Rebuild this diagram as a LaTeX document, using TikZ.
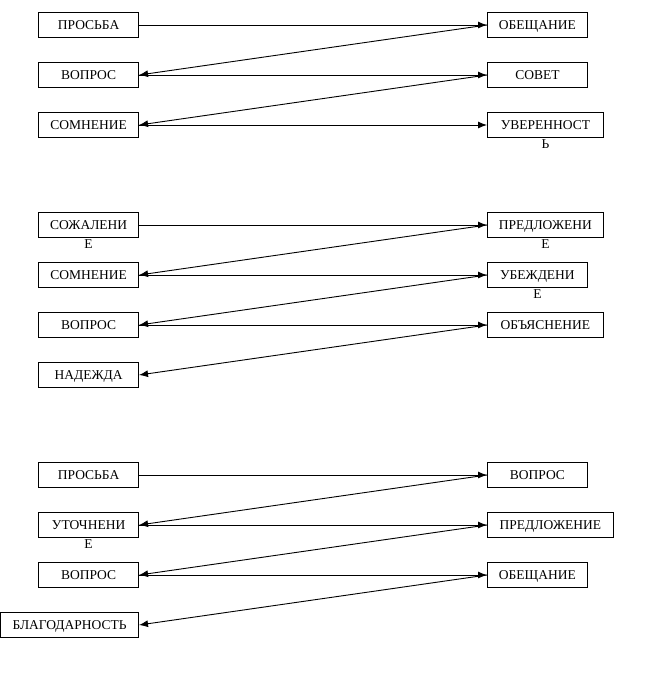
\documentclass[tikz,border=0pt]{standalone}
\usepackage{fontspec}
\setmainfont{Liberation Serif}
\usetikzlibrary{arrows.meta,positioning}

% text that runs out of its box: first line inside, second below
\newcommand{\spill}[2]{\vtop{\halign{\hfil##\hfil\cr#1\cr#2\cr}}}

\tikzset{
  box/.style={draw, rectangle, line width=0.8pt, inner sep=0pt, minimum height=25pt, minimum width=100pt,
    text height=9.5pt, text depth=0pt, font=\fontsize{13.5}{19}\selectfont},
  link/.style={-{Latex[length=9pt,width=7pt]}, line width=0.9pt}
}

\begin{document}
\begin{tikzpicture}[x=1pt,y=-1pt]
  \useasboundingbox (0,0) rectangle (652,675);

  % first block
  \node[box,anchor=east] (a1) at (139,25) {ПРОСЬБА};
  \node[box,anchor=east] (a2) at (139,75) {ВОПРОС};
  \node[box,anchor=east] (a3) at (139,125) {СОМНЕНИЕ};
  \node[box,anchor=west] (b1) at (487,25) {ОБЕЩАНИЕ};
  \node[box,anchor=west] (b2) at (487,75) {СОВЕТ};
  \node[box,anchor=west,minimum width=116pt] (b3) at (487,125) {\spill{УВЕРЕННОСТ}{Ь}};

  \draw[link] (a1.east) -- (b1.west);
  \draw[link] (b1.west) -- (a2.east);
  \draw[link] (a2.east) -- (b2.west);
  \draw[link] (b2.west) -- (a3.east);
  \draw[link] (a3.east) -- (b3.west);

  % second block
  \node[box,anchor=east] (c1) at (139,225) {\spill{СОЖАЛЕНИ}{Е}};
  \node[box,anchor=east] (c2) at (139,275) {СОМНЕНИЕ};
  \node[box,anchor=east] (c3) at (139,325) {ВОПРОС};
  \node[box,anchor=east] (c4) at (139,375) {НАДЕЖДА};
  \node[box,anchor=west,minimum width=116pt] (d1) at (487,225) {\spill{ПРЕДЛОЖЕНИ}{Е}};
  \node[box,anchor=west] (d2) at (487,275) {\spill{УБЕЖДЕНИ}{Е}};
  \node[box,anchor=west,minimum width=116pt] (d3) at (487,325) {ОБЪЯСНЕНИЕ};

  \draw[link] (c1.east) -- (d1.west);
  \draw[link] (d1.west) -- (c2.east);
  \draw[link] (c2.east) -- (d2.west);
  \draw[link] (d2.west) -- (c3.east);
  \draw[link] (c3.east) -- (d3.west);
  \draw[link] (d3.west) -- (c4.east);

  % third block
  \node[box,anchor=east] (e1) at (139,475) {ПРОСЬБА};
  \node[box,anchor=east] (e2) at (139,525) {\spill{УТОЧНЕНИ}{Е}};
  \node[box,anchor=east] (e3) at (139,575) {ВОПРОС};
  \node[box,anchor=east,minimum width=138pt] (e4) at (139,625) {БЛАГОДАРНОСТЬ};
  \node[box,anchor=west] (f1) at (487,475) {ВОПРОС};
  \node[box,anchor=west,minimum width=126pt] (f2) at (487,525) {ПРЕДЛОЖЕНИЕ};
  \node[box,anchor=west] (f3) at (487,575) {ОБЕЩАНИЕ};

  \draw[link] (e1.east) -- (f1.west);
  \draw[link] (f1.west) -- (e2.east);
  \draw[link] (e2.east) -- (f2.west);
  \draw[link] (f2.west) -- (e3.east);
  \draw[link] (e3.east) -- (f3.west);
  \draw[link] (f3.west) -- (e4.east);
\end{tikzpicture}
\end{document}
